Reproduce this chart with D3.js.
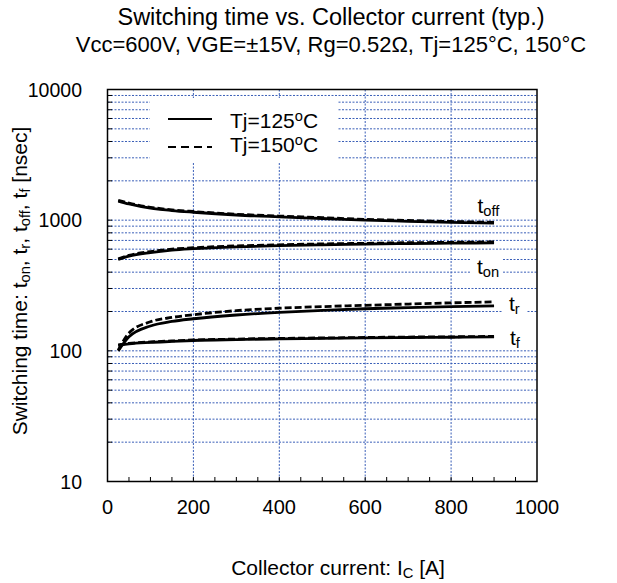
<!DOCTYPE html>
<html>
<head>
<meta charset="utf-8">
<script src="https://cdn.jsdelivr.net/npm/d3@7"></script>
<style>
  body { margin: 0; background: #fff; }
  text { font-family: "Liberation Sans", Arial, sans-serif; fill: #000; }
</style>
</head>
<body>
<main></main>
<script>
// collector current [A]
const current = [25, 50, 100, 150, 200, 300, 400, 500, 600, 700, 800, 900];

// switching times [nsec]
const toff125 = [1400, 1330, 1235, 1185, 1150, 1095, 1060, 1030, 1000, 980, 962, 948];
const toff150 = [1420, 1350, 1255, 1200, 1165, 1110, 1075, 1045, 1015, 995, 977, 962];
const ton125 = [500, 530, 565, 590, 605, 625, 638, 648, 655, 662, 667, 670];
const ton150 = [505, 538, 575, 600, 615, 635, 648, 658, 665, 672, 677, 682];
const tr125 = [100, 128, 155, 168, 176, 188, 197, 204, 210, 214, 218, 221];
const tr150 = [101, 137, 167, 180, 189, 203, 212, 218, 223, 228, 233, 237];
const tf125 = [110, 113, 116, 118, 120, 122, 123.5, 124.5, 125.5, 126.5, 127, 128];
const tf150 = [111, 114, 117, 119, 121, 123, 124.5, 125.5, 126.5, 127.5, 128, 129];

const xTicks = [0, 200, 400, 600, 800, 1000];
const yTicks = [10, 100, 1000, 10000];

const width = 617;
const height = 583;
const pLeft = 107.5, pRight = 537, pTop = 89.5, pBottom = 481.5;

const x = d3.scaleLinear().domain([0, 1000]).range([pLeft, pRight]);
const y = d3.scaleLog().domain([10, 10000]).range([pBottom, pTop]);

let svg = d3.select('main')
  .append('svg')
  .attr('width', width)
  .attr('height', height);

/**
 * Append text made of plain / sub / sup pieces
 */
function rich(sel, parts, size) {
  let shift = 0;
  parts.forEach(function (p) {
    let dy = p.sub ? 3 : (p.sup ? -7 : 0);
    let t = sel.append('tspan').text(p.t);
    if (dy - shift !== 0) t.attr('dy', dy - shift);
    if (p.sub || p.sup) t.attr('font-size', size * 0.7);
    shift = dy;
  });
  return sel;
}

// titles
svg.append('text')
  .attr('x', 331).attr('y', 25)
  .attr('text-anchor', 'middle')
  .attr('font-size', 23.5)
  .text('Switching time vs. Collector current (typ.)');
svg.append('text')
  .attr('x', 331).attr('y', 52)
  .attr('text-anchor', 'middle')
  .attr('font-size', 22)
  .text('Vcc=600V, VGE=\u00b115V, Rg=0.52\u03a9, Tj=125\u00b0C, 150\u00b0C');

// grid
const gridColor = '#3a5fb8';
let hGrid = [];
[10, 100, 1000].forEach(function (d) {
  for (let k = 1; k <= 9; k++) {
    if (d * k > 10 && d * k < 10000) hGrid.push(d * k);
  }
});
svg.append('g').selectAll('line')
  .data(hGrid)
  .enter()
  .append('line')
  .attr('x1', pLeft).attr('x2', pRight)
  .attr('y1', function (d) { return y(d); })
  .attr('y2', function (d) { return y(d); })
  .attr('stroke', gridColor)
  .attr('stroke-width', 1)
  .attr('stroke-dasharray', '2,1.5');

svg.append('g').selectAll('line')
  .data([200, 400, 600, 800])
  .enter()
  .append('line')
  .attr('x1', function (d) { return x(d); })
  .attr('x2', function (d) { return x(d); })
  .attr('y1', pTop).attr('y2', pBottom)
  .attr('stroke', gridColor)
  .attr('stroke-width', 1)
  .attr('stroke-dasharray', '2,1.5');

// ticks inside the frame
svg.append('g').selectAll('line')
  .data(d3.range(50, 1000, 50))
  .enter()
  .append('line')
  .attr('x1', function (d) { return x(d); })
  .attr('x2', function (d) { return x(d); })
  .attr('y1', pBottom).attr('y2', pBottom - 4.5)
  .attr('stroke', '#000');

svg.append('g').selectAll('line')
  .data(hGrid)
  .enter()
  .append('line')
  .attr('x1', pLeft).attr('x2', pLeft + 4.5)
  .attr('y1', function (d) { return y(d); })
  .attr('y2', function (d) { return y(d); })
  .attr('stroke', '#000');

// tick labels
svg.append('g').selectAll('text')
  .data(xTicks)
  .enter()
  .append('text')
  .attr('x', function (d) { return x(d); })
  .attr('y', 514)
  .attr('text-anchor', 'middle')
  .attr('font-size', 20)
  .text(function (d) { return d; });

svg.append('g').selectAll('text')
  .data(yTicks)
  .enter()
  .append('text')
  .attr('x', 82)
  .attr('y', function (d) { return y(d) + 7; })
  .attr('text-anchor', 'end')
  .attr('font-size', 19.5)
  .text(function (d) { return d; });

// axis titles
rich(svg.append('text')
  .attr('x', 338).attr('y', 575)
  .attr('text-anchor', 'middle')
  .attr('font-size', 21),
  [{t: 'Collector current: I'}, {t: 'C', sub: true}, {t: ' [A]'}], 21);

rich(svg.append('text')
  .attr('transform', 'translate(27,281) rotate(-90)')
  .attr('text-anchor', 'middle')
  .attr('font-size', 21),
  [{t: 'Switching time: t'}, {t: 'on', sub: true}, {t: ', t'}, {t: 'r', sub: true},
   {t: ', t'}, {t: 'off', sub: true}, {t: ', t'}, {t: 'f', sub: true}, {t: ' [nsec]'}], 21);

// legend box hides the grid behind it
svg.append('rect')
  .attr('x', 150).attr('y', 98)
  .attr('width', 187).attr('height', 65)
  .attr('fill', '#fff');

// curve labels (white backing where the grid is interrupted)
svg.append('rect').attr('x', 470).attr('y', 252).attr('width', 33).attr('height', 28).attr('fill', '#fff');
svg.append('rect').attr('x', 502).attr('y', 296).attr('width', 25).attr('height', 24).attr('fill', '#fff');

const labels = [
  {name: 'off', x: 477.5, y: 213},
  {name: 'on', x: 477, y: 274},
  {name: 'r', x: 509, y: 311},
  {name: 'f', x: 510, y: 345}
];
labels.forEach(function (l) {
  rich(svg.append('text')
    .attr('x', l.x).attr('y', l.y)
    .attr('font-size', 21),
    [{t: 't'}, {t: l.name, sub: true}], 21);
});

// curves
const series = [
  {v: toff125, dash: null}, {v: toff150, dash: '7,3'},
  {v: ton125, dash: null}, {v: ton150, dash: '7,3'},
  {v: tr125, dash: null}, {v: tr150, dash: '7,3'},
  {v: tf125, dash: null}, {v: tf150, dash: '7,3'}
];
const line = d3.line()
  .x(function (d) { return x(d[0]); })
  .y(function (d) { return y(d[1]); })
  .curve(d3.curveMonotoneX);

svg.append('g').selectAll('path')
  .data(series)
  .enter()
  .append('path')
  .attr('d', function (s) { return line(current.map(function (c, i) { return [c, s.v[i]]; })); })
  .attr('fill', 'none')
  .attr('stroke', '#000')
  .attr('stroke-width', 2.8)
  .attr('stroke-dasharray', function (s) { return s.dash; });

// legend
const legend = [
  {label: 'Tj=125', dash: null, ly: 119, ty: 128},
  {label: 'Tj=150', dash: '8,5', ly: 147, ty: 152}
];
legend.forEach(function (d) {
  svg.append('line')
    .attr('x1', 168).attr('x2', 212)
    .attr('y1', d.ly).attr('y2', d.ly)
    .attr('stroke', '#000')
    .attr('stroke-width', 2)
    .attr('stroke-dasharray', d.dash);
  rich(svg.append('text')
    .attr('x', 230).attr('y', d.ty)
    .attr('font-size', 21),
    [{t: d.label}, {t: 'o', sup: true}, {t: 'C'}], 21);
});

// frame
svg.append('rect')
  .attr('x', pLeft).attr('y', pTop)
  .attr('width', pRight - pLeft).attr('height', pBottom - pTop)
  .attr('fill', 'none')
  .attr('stroke', '#000')
  .attr('stroke-width', 1.5);
</script>
</body>
</html>
